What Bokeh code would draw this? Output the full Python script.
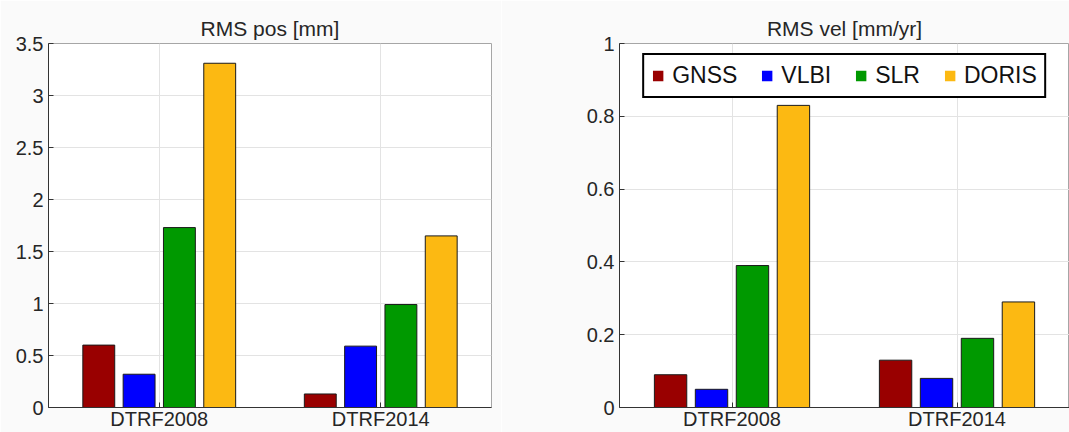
from bokeh.plotting import figure
from bokeh.models import FactorRange, Range1d, FixedTicker, ColumnDataSource, Legend, LegendItem
from bokeh.transform import dodge
from bokeh.layouts import row
from bokeh.embed import file_html
from bokeh.resources import INLINE

groups = ["DTRF2008", "DTRF2014"]
series = ["GNSS", "VLBI", "SLR", "DORIS"]
colors = ["#990000", "#0000ff", "#009900", "#fcb912"]

pos_gnss = [0.60, 0.13]
pos_vlbi = [0.32, 0.59]
pos_slr = [1.73, 0.99]
pos_doris = [3.31, 1.65]

vel_gnss = [0.09, 0.13]
vel_vlbi = [0.05, 0.08]
vel_slr = [0.39, 0.19]
vel_doris = [0.83, 0.29]

pos_ticks = [0, 0.5, 1, 1.5, 2, 2.5, 3, 3.5]
pos_tick_labels = ["0", "0.5", "1", "1.5", "2", "2.5", "3", "3.5"]
vel_ticks = [0, 0.2, 0.4, 0.6, 0.8, 1.0]
vel_tick_labels = ["0", "0.2", "0.4", "0.6", "0.8", "1"]

FONT = "Liberation Sans"
TXT = "#262626"
offsets = [-0.273, -0.091, 0.091, 0.273]
BAR_W = 0.144


def make_panel(title, vals, ymax, ticks, labels, width, left, right, legend=False):
    p = figure(x_range=FactorRange(factors=groups, range_padding=0),
               y_range=Range1d(0, ymax), width=width, height=432,
               output_backend="svg", toolbar_location=None,
               min_border_left=left, min_border_right=right,
               min_border_top=43, min_border_bottom=0,
               border_fill_color="#fafafa", background_fill_color="white",
               outline_line_color="#a6a6a6", outline_line_width=1)
    p.title.text = title
    p.title.align = "center"
    p.title.text_font = FONT
    p.title.text_font_size = "21px"
    p.title.text_font_style = "normal"
    p.title.text_color = TXT
    p.title.standoff = 8

    items = []
    for s, c, v, off in zip(series, colors, vals, offsets):
        src = ColumnDataSource(dict(group=groups, val=v))
        p.vbar(x=dodge("group", off, range=p.x_range), top="val", width=BAR_W,
               source=src, fill_color=c, line_color="#1a1a1a", line_width=1)
        if legend:
            dsrc = ColumnDataSource(dict(group=groups, val=v))
            dummy = p.vbar(x="group", top="val", width=BAR_W, source=dsrc,
                           fill_color=c, line_color=None, visible=False)
            items.append(LegendItem(label=s, renderers=[dummy]))

    p.yaxis.ticker = FixedTicker(ticks=ticks)
    p.yaxis.major_label_overrides = {t: l for t, l in zip(ticks, labels)}
    for ax in (p.xaxis[0], p.yaxis[0]):
        ax.major_tick_in = 5
        ax.major_tick_out = 0
        ax.minor_tick_in = 0
        ax.minor_tick_out = 0
        ax.axis_line_color = "#333333"
        ax.major_tick_line_color = "#333333"
        ax.major_label_text_font = FONT
        ax.major_label_text_font_size = "20px"
        ax.major_label_text_color = TXT
    p.yaxis.major_label_standoff = 5
    p.xaxis.major_label_standoff = 0
    p.grid.grid_line_color = "#e3e3e3"
    p.grid.grid_line_width = 1

    if legend:
        lg = Legend(items=items, orientation="horizontal", location="top_center",
                    glyph_width=13, glyph_height=13, label_standoff=8, spacing=23,
                    padding=7, margin=10, border_line_color="#000000",
                    border_line_width=2, border_line_alpha=1.0,
                    background_fill_color="white", background_fill_alpha=1.0,
                    label_text_font=FONT, label_text_font_size="23px",
                    label_text_color="#111111", label_height=22,
                    inactive_fill_alpha=0)
        p.add_layout(lg, "center")
    return p


p1 = make_panel("RMS pos [mm]", [pos_gnss, pos_vlbi, pos_slr, pos_doris], 3.5,
                pos_ticks, pos_tick_labels, 501, 48, 10)
p2 = make_panel("RMS vel [mm/yr]", [vel_gnss, vel_vlbi, vel_slr, vel_doris], 1.0,
                vel_ticks, vel_tick_labels, 568, 118, 0, legend=True)

lay = row(p1, p2, spacing=0)
open("out.html", "w").write(file_html(lay, INLINE))
